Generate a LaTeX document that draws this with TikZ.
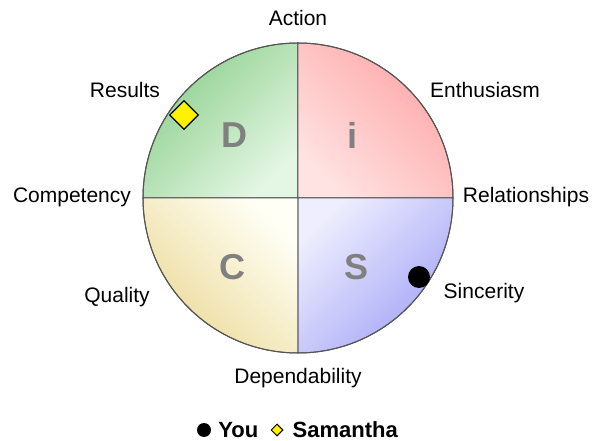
\documentclass[tikz,border=0pt]{standalone}
\usepackage{fontspec}
\setmainfont{Liberation Sans}
\usetikzlibrary{positioning,shapes.geometric}
\definecolor{dOut}{HTML}{8CCF8C}
\definecolor{dIn}{HTML}{E4F6E4}
\definecolor{iOut}{HTML}{FFA6A6}
\definecolor{iIn}{HTML}{FFE2E2}
\definecolor{sOut}{HTML}{A4A4F6}
\definecolor{sIn}{HTML}{EEEEFF}
\definecolor{cOut}{HTML}{ECDA98}
\definecolor{cIn}{HTML}{FFFFF6}
\definecolor{rim}{HTML}{555555}

\begin{document}
\begin{tikzpicture}[x=1pt, y=1pt,
    lbl/.style={font=\fontsize{21}{25}\selectfont, inner sep=0pt},
    letter/.style={font=\fontsize{36}{40}\selectfont\bfseries, text=gray, inner sep=0pt},
    legend/.style={font=\fontsize{22}{26}\selectfont\bfseries, inner sep=0pt},
    quad/.style={draw=rim, line width=1pt}]
    \useasboundingbox (-298,-243) rectangle (302,198);

    \shade[quad, top color=dOut, bottom color=dIn, shading angle=45] (0,0) -- (-155,0) arc[start angle=180, end angle=90, radius=155] -- cycle;
    \shade[quad, top color=iOut, bottom color=iIn, shading angle=-45] (0,0) -- (0,155) arc[start angle=90, end angle=0, radius=155] -- cycle;
    \shade[quad, top color=sOut, bottom color=sIn, shading angle=-135] (0,0) -- (155,0) arc[start angle=0, end angle=-90, radius=155] -- cycle;
    \shade[quad, top color=cOut, bottom color=cIn, shading angle=135] (0,0) -- (0,-155) arc[start angle=-90, end angle=-180, radius=155] -- cycle;
    \draw[quad] (0,0) circle[radius=155];

    \node[letter](D) at (-64,63) {D};
    \node[letter](i) at (55,63) {i};
    \node[letter](C) at (-65,-69) {C};
    \node[letter](S) at (59,-69) {S};

    \node[lbl](action) at (0,180) {Action};
    \node[lbl](results) at (-173,108) {Results};
    \node[lbl](enthusiasm) at (187,108) {Enthusiasm};
    \node[lbl](competency) at (-226,1) {Competency};
    \node[lbl](relationships) at (228,1) {Relationships};
    \node[lbl](quality) at (-181,-99) {Quality};
    \node[lbl](sincerity) at (186,-95) {Sincerity};
    \node[lbl](dependability) at (0,-180) {Dependability};

    \node[diamond, draw, fill=yellow, line width=1.3pt, minimum size=29, inner sep=0pt](samantha) at (-114,83) {};
    \node[circle, fill=black, minimum size=22, inner sep=0pt](you) at (121,-79) {};

    \node[circle, fill=black, minimum size=14, inner sep=0pt](youdot) at (-94,-232) {};
    \node[legend, right=7pt of youdot](youtxt) {You};
    \node[diamond, draw, fill=yellow, line width=1pt, minimum size=12, inner sep=0pt, right=12pt of youtxt](samdot) {};
    \node[legend, right=9pt of samdot](samtxt) {Samantha};
\end{tikzpicture}
\end{document}
